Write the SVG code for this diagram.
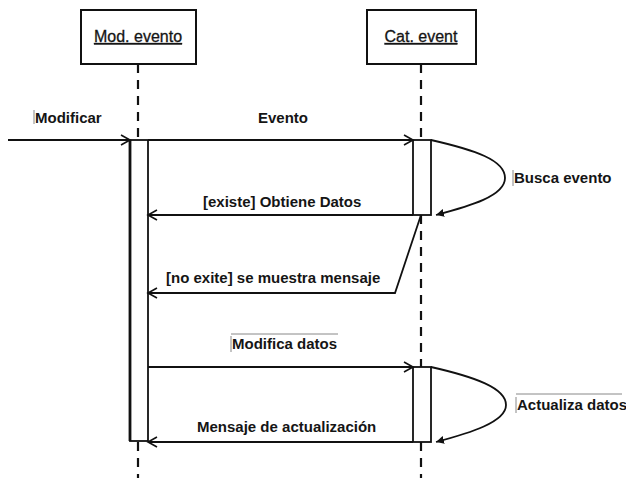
<svg xmlns="http://www.w3.org/2000/svg" width="626" height="478" viewBox="0 0 626 478">
  <style>
    text { font-family: "Liberation Sans", Arial, sans-serif; font-size: 15px; font-weight: bold; fill: #151515; }
    .title { font-size: 16px; font-weight: normal; stroke: #151515; stroke-width: 0.3; }
    .obj { fill: #fff; stroke: #111; stroke-width: 2; }
    .life { stroke: #111; stroke-width: 2.2; stroke-dasharray: 9 7; fill: none; }
    .act { fill: #fff; stroke: #111; stroke-width: 1.8; }
    .msg { stroke: #111; stroke-width: 1.8; fill: none; }
    .bar { stroke: #888; stroke-width: 1; }
  </style>
  <defs>
    <marker id="open" markerWidth="12" markerHeight="12" refX="10" refY="6" orient="auto" markerUnits="userSpaceOnUse">
      <path d="M1,1 L10,6 L1,11" fill="none" stroke="#111" stroke-width="1.6"/>
    </marker>
    <marker id="solid" markerWidth="10" markerHeight="10" refX="8" refY="5" orient="auto" markerUnits="userSpaceOnUse">
      <path d="M0,1 L8,5 L0,9 Z" fill="#111"/>
    </marker>
  </defs>

  <rect width="626" height="478" fill="#fff"/>

  <!-- lifelines -->
  <g id="lifelines">
    <line class="life" x1="138" y1="64" x2="138" y2="140"/>
    <line class="life" x1="138" y1="442" x2="138" y2="478"/>
    <line class="life" x1="421" y1="64" x2="421" y2="140"/>
    <line class="life" x1="421" y1="215" x2="421" y2="367"/>
    <line class="life" x1="421" y1="442" x2="421" y2="478"/>
  </g>

  <g id="mod-evento">
    <rect class="obj" x="81" y="10" width="115" height="54"/>
    <text class="title" x="138" y="42" text-anchor="middle" text-decoration="underline">Mod. evento</text>
    <rect class="act" x="130" y="140" width="18" height="301"/>
    <line x1="130" y1="140" x2="130" y2="441" stroke="#111" stroke-width="2.8"/>
  </g>

  <g id="cat-event">
    <rect class="obj" x="367" y="10" width="109" height="54"/>
    <text class="title" x="421" y="42" text-anchor="middle" text-decoration="underline">Cat. event</text>
    <rect class="act" x="413" y="140" width="18" height="75"/>
    <rect class="act" x="413" y="367" width="18" height="75"/>
  </g>

  <!-- connectors -->
  <g id="connectors">
    <line class="msg" x1="8" y1="140" x2="130" y2="140" marker-end="url(#open)"/>
    <line class="msg" x1="148" y1="140" x2="413" y2="140" marker-end="url(#open)"/>
    <path class="msg" d="M431,140 C475,150 505,160 505,178 C505,196 470,206 436,215" marker-end="url(#solid)"/>
    <line class="msg" x1="413" y1="215" x2="148" y2="215" marker-end="url(#open)"/>
    <polyline class="msg" points="421,215 395,293 148,293" marker-end="url(#open)"/>
    <line class="msg" x1="148" y1="367" x2="413" y2="367" marker-end="url(#open)"/>
    <path class="msg" d="M431,367 C475,377 506,388 506,405 C506,422 470,433 436,442" marker-end="url(#solid)"/>
    <line class="msg" x1="413" y1="442" x2="148" y2="442" marker-end="url(#open)"/>
  </g>

  <!-- message labels -->
  <g id="labels">
    <line class="bar" x1="34" y1="110" x2="34" y2="124"/>
    <text x="35" y="123">Modificar</text>
    <text x="283" y="123" text-anchor="middle">Evento</text>
    <line class="bar" x1="513" y1="170" x2="513" y2="186"/>
    <text x="514" y="183">Busca evento</text>
    <text x="203" y="207">[existe] Obtiene Datos</text>
    <text x="166" y="283">[no exite] se muestra mensaje</text>
    <line class="bar" x1="231" y1="336" x2="231" y2="352"/>
    <line class="bar" x1="231" y1="334" x2="338" y2="334"/>
    <text x="232" y="349">Modifica datos</text>
    <line class="bar" x1="516" y1="397" x2="516" y2="413"/>
    <line class="bar" x1="516" y1="394" x2="622" y2="394"/>
    <text x="517" y="410" font-size="14">Actualiza datos</text>
    <text x="197" y="432">Mensaje de actualización</text>
  </g>
</svg>
